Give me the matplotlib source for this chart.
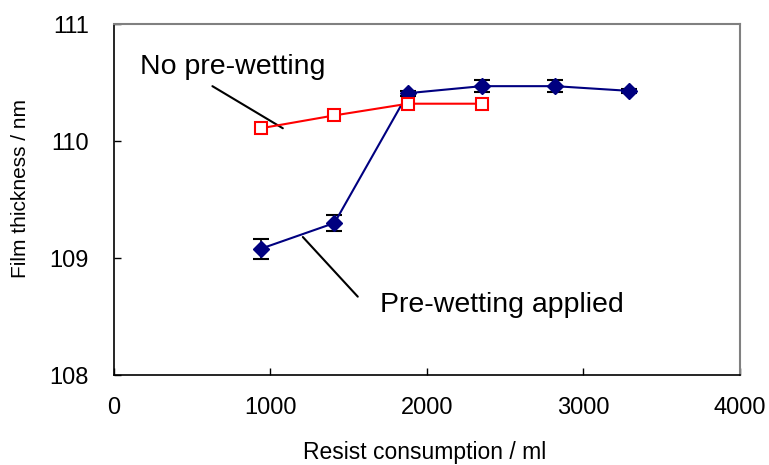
import matplotlib
matplotlib.use("Agg")
import matplotlib.pyplot as plt

plt.rcParams['font.family'] = ['Liberation Sans', 'DejaVu Sans']

# Data
x_no = [940, 1410, 1880, 2350]
y_no = [110.11, 110.22, 110.32, 110.32]

x_pre = [940, 1410, 1880, 2350, 2820, 3290]
y_pre = [109.08, 109.30, 110.41, 110.47, 110.47, 110.43]
err_pre = [0.085, 0.07, 0.02, 0.05, 0.05, 0.02]

xticks = [0, 1000, 2000, 3000, 4000]
yticks = [108, 109, 110, 111]

fig = plt.figure(figsize=(7.69, 4.65), dpi=100)
ax = fig.add_axes([0.148, 0.1935, 0.814, 0.7545])

ax.errorbar(x_pre, y_pre, yerr=err_pre, fmt='none', ecolor='black',
            elinewidth=1.2, capsize=5.5, capthick=1.5, zorder=2)
ax.plot(x_pre, y_pre, color='#000080', lw=1.5, marker='D', markersize=8,
        markerfacecolor='#000080', markeredgecolor='#000080', zorder=3)
ax.plot(x_no, y_no, color='#ff0000', lw=1.5, marker='s', markersize=8,
        markerfacecolor='white', markeredgecolor='#ff0000', markeredgewidth=1.5, zorder=4)

ax.set_xlim(0, 4000)
ax.set_ylim(108, 111)
ax.set_xticks(xticks)
ax.set_yticks(yticks)
ax.tick_params(direction='in', length=5, width=1, labelsize=17)
ax.tick_params(axis='x', pad=16)
ax.tick_params(axis='y', pad=18)

for s in ['left', 'bottom']:
    ax.spines[s].set_color('black')
    ax.spines[s].set_linewidth(1.2)
for s in ['top', 'right']:
    ax.spines[s].set_color('#808080')
    ax.spines[s].set_linewidth(1.5)

ax.set_xlabel('Resist consumption / ml', fontsize=16.5)
ax.set_ylabel('Film thickness / nm', fontsize=15)
ax.xaxis.set_label_coords(0.497, -0.222)
ax.xaxis.label.set_va('center')
ax.yaxis.set_label_coords(-0.1486, 0.533)
ax.yaxis.label.set_va('center')

# Annotations
ax.text(166, 110.63, 'No pre-wetting', fontsize=20.5, va='center', ha='left')
ax.annotate('', xy=(1080, 110.11), xytext=(630, 110.47),
            arrowprops=dict(arrowstyle='-', color='black', lw=1.5, shrinkA=0, shrinkB=0))
ax.text(1700, 108.60, 'Pre-wetting applied', fontsize=20.5, va='center', ha='left')
ax.annotate('', xy=(1208, 109.18), xytext=(1559, 108.67),
            arrowprops=dict(arrowstyle='-', color='black', lw=1.5, shrinkA=0, shrinkB=0))

fig.savefig('out.png', dpi=100)
